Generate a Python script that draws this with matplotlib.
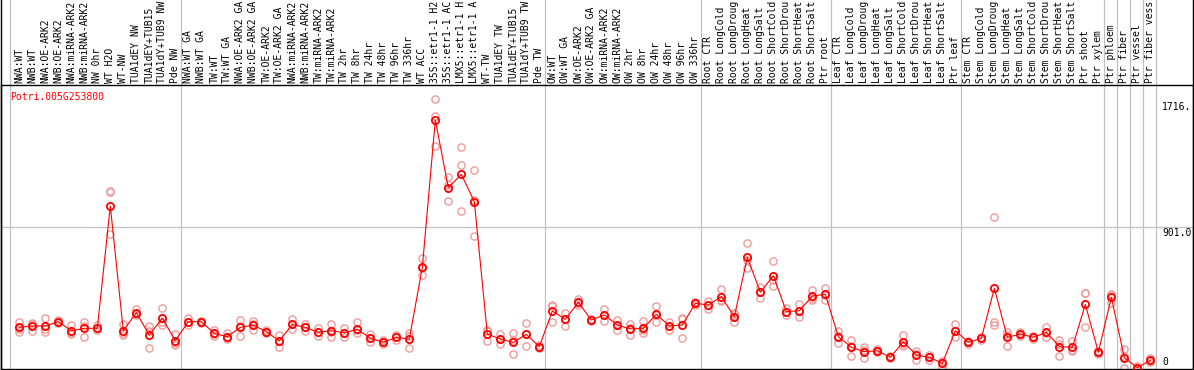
import numpy as np
import matplotlib
matplotlib.use('Agg')
import matplotlib.pyplot as plt
import matplotlib.transforms as mtransforms

gene = 'Potri.005G253800'

# sample names as far as they show above the plot (the strip only fits 14 characters)
samples = ['NWA:WT', 'NWB:WT', 'NWA:OE-ARK2', 'NWB:OE-ARK2', 'NWA:miRNA-ARK2', 'NWB:miRNA-ARK2',
           'NW 0hr', 'WT H2O', 'WT-NW', 'TUA1dEY NW', 'TUA1dEY+TUB15', 'TUA1dY+TUB9 NW', 'Pde NW',
           'NWA:WT GA', 'NWB:WT GA', 'TW:WT', 'TW:WT GA', 'NWA:OE-ARK2 GA', 'NWB:OE-ARK2 GA',
           'TW:OE-ARK2', 'TW:OE-ARK2 GA', 'NWA:miRNA-ARK2', 'NWB:miRNA-ARK2', 'TW:miRNA-ARK2',
           'TW:miRNA-ARK2', 'TW 2hr', 'TW 8hr', 'TW 24hr', 'TW 48hr', 'TW 96hr', 'TW 336hr',
           'WT ACC', '35S::etr1-1 H2', '35S::etr1-1 AC', 'LMX5::etr1-1 H', 'LMX5::etr1-1 A',
           'WT-TW', 'TUA1dEY TW', 'TUA1dEY+TUB15', 'TUA1dY+TUB9 TW', 'Pde TW',
           'OW:WT', 'OW:WT GA', 'OW:OE-ARK2', 'OW:OE-ARK2 GA', 'OW:miRNA-ARK2', 'OW:miRNA-ARK2',
           'OW 2hr', 'OW 8hr', 'OW 24hr', 'OW 48hr', 'OW 96hr', 'OW 336hr',
           'Root CTR', 'Root LongCold', 'Root LongDroug', 'Root LongHeat', 'Root LongSalt',
           'Root ShortCold', 'Root ShortDrou', 'Root ShortHeat', 'Root ShortSalt', 'Ptr root',
           'Leaf CTR', 'Leaf LongCold', 'Leaf LongDroug', 'Leaf LongHeat', 'Leaf LongSalt',
           'Leaf ShortCold', 'Leaf ShortDrou', 'Leaf ShortHeat', 'Leaf ShortSalt', 'Ptr leaf',
           'Stem CTR', 'Stem LongCold', 'Stem LongDroug', 'Stem LongHeat', 'Stem LongSalt',
           'Stem ShortCold', 'Stem ShortDrou', 'Stem ShortHeat', 'Stem ShortSalt',
           'Ptr shoot', 'Ptr xylem', 'Ptr phloem', 'Ptr fiber', 'Ptr vessel', 'Ptr fiber vess']

# number of samples in each block between the grey separators
group_sizes = [13, 28, 12, 10, 10, 11, 1, 1, 1, 1]

means = [264, 273, 273, 300, 243, 258, 258, 1034, 243, 357, 216, 322, 180,
         300, 300, 226, 205, 264, 279, 237, 178, 283, 264, 233, 243, 230, 252, 195,
         169, 201, 190, 645, 1580, 1150, 1235, 1062, 222, 190, 169, 220, 142,
         368, 315, 423, 311, 343, 279, 254, 258, 347, 273, 279, 417,
         406, 459, 332, 709, 487, 592, 364, 370, 463, 474,
         205, 138, 110, 116, 74, 173, 89, 74, 36, 243,
         169, 195, 512, 201, 222, 201, 233, 142, 138, 410, 106,
         455, 72, 8, 55]

replicates = [[300, 255, 237], [287, 290, 243], [326, 256, 237], [310, 300, 290], [279, 226, 224],
              [300, 273, 201], [279, 258, 245], [1129, 1121, 855], [285, 230, 216], [379, 350, 343],
              [275, 240, 131], [389, 300, 279], [220, 168, 152],
              [322, 300, 279], [305, 300, 295], [247, 220, 211], [226, 205, 190], [311, 270, 211],
              [307, 283, 247], [247, 237, 226], [216, 180, 138], [315, 283, 252], [283, 264, 241],
              [258, 233, 211], [287, 237, 205], [258, 226, 205], [296, 245, 226], [220, 195, 169],
              [182, 169, 156], [216, 201, 186], [226, 210, 135], [702, 640, 596], [1716, 1605, 1415],
              [1216, 1170, 1066], [1407, 1294, 1002], [1263, 1075, 844], [250, 238, 178],
              [220, 190, 161], [230, 184, 93], [290, 224, 146], [150, 142, 134],
              [406, 398, 300], [357, 315, 273], [442, 420, 407], [318, 311, 304], [379, 343, 307],
              [311, 279, 247], [285, 260, 216], [304, 245, 226], [400, 345, 296], [300, 273, 245],
              [326, 316, 195], [426, 417, 408],
              [431, 406, 381], [508, 438, 431], [353, 346, 296], [797, 690, 639], [522, 487, 452],
              [685, 565, 527], [389, 360, 343], [412, 366, 332], [501, 450, 438], [512, 472, 438],
              [240, 212, 163], [184, 146, 84], [142, 120, 68], [125, 116, 107], [80, 74, 68],
              [216, 160, 146], [116, 95, 57], [89, 74, 59], [51, 42, 15], [285, 240, 205],
              [180, 169, 158], [205, 195, 185], [962, 296, 279], [237, 218, 148], [237, 222, 208],
              [210, 201, 192], [268, 226, 205], [184, 160, 82], [180, 118, 116], [484, 482, 264],
              [115, 106, 97], [474, 470, 421], [127, 85, 4], [19, 5, 0], [68, 50, 47]]

y_max = 1802
y_mid = 901.0
y_top_label = '1716.'

mono = 'DejaVu Sans Mono'
fs = 7.0

fig = plt.figure(figsize=(11.94, 3.70), dpi=100)
ax = fig.add_axes([1 / 1194, 1 / 370, 1192 / 1194, 284 / 370])
x = np.arange(len(samples))
ax.set_xlim(-1.408, 90.28)
ax.set_ylim(0, y_max)

# grey separators between sample blocks, running up through the label strip
bounds = [-0.72] + list(np.cumsum(group_sizes) - 0.58)
for b in bounds:
    ax.axvline(b, ymin=0, ymax=1.31, color='#c0c0c0', lw=0.9, clip_on=False, zorder=1)
ax.axhline(y_mid, color='#c0c0c0', lw=0.9, zorder=1)

for i, reps in enumerate(replicates):
    ax.plot([i] * len(reps), reps, 'o', ms=5.2, mfc='none', mec='#f09a9a', mew=1.0, zorder=2)
ax.plot(x, means, '-', color='red', lw=0.8, zorder=3)
ax.plot(x, means, 'o', ms=5.2, mfc='none', mec='red', mew=1.3, zorder=4)

trans = mtransforms.blended_transform_factory(ax.transData, ax.transAxes)
for i, s in enumerate(samples):
    ax.text(i, 1.007, s, transform=trans, rotation=90, ha='center', va='bottom',
            family=mono, fontsize=fs, clip_on=False)

ax.text(0.0076, 0.958, gene, transform=ax.transAxes, color='red', family=mono,
        fontsize=fs, va='center', ha='left')
ax.text(0.974, 0.9225, y_top_label, transform=ax.transAxes, family=mono, fontsize=fs,
        va='center', ha='left')
ax.text(0.974, 0.479, '%.1f' % y_mid, transform=ax.transAxes, family=mono, fontsize=fs,
        va='center', ha='left')
ax.text(0.974, 0.0246, '0', transform=ax.transAxes, family=mono, fontsize=fs,
        va='center', ha='left')

ax.set_xticks([])
ax.set_yticks([])
for sp in ax.spines.values():
    sp.set_linewidth(1.0)
    sp.set_color('black')
# outer side borders go all the way to the top of the picture
for xb in (0, 1):
    ax.plot([xb, xb], [0, 1.31], transform=ax.transAxes, color='black', lw=1.0, clip_on=False)

fig.savefig('out.png', dpi=100)
